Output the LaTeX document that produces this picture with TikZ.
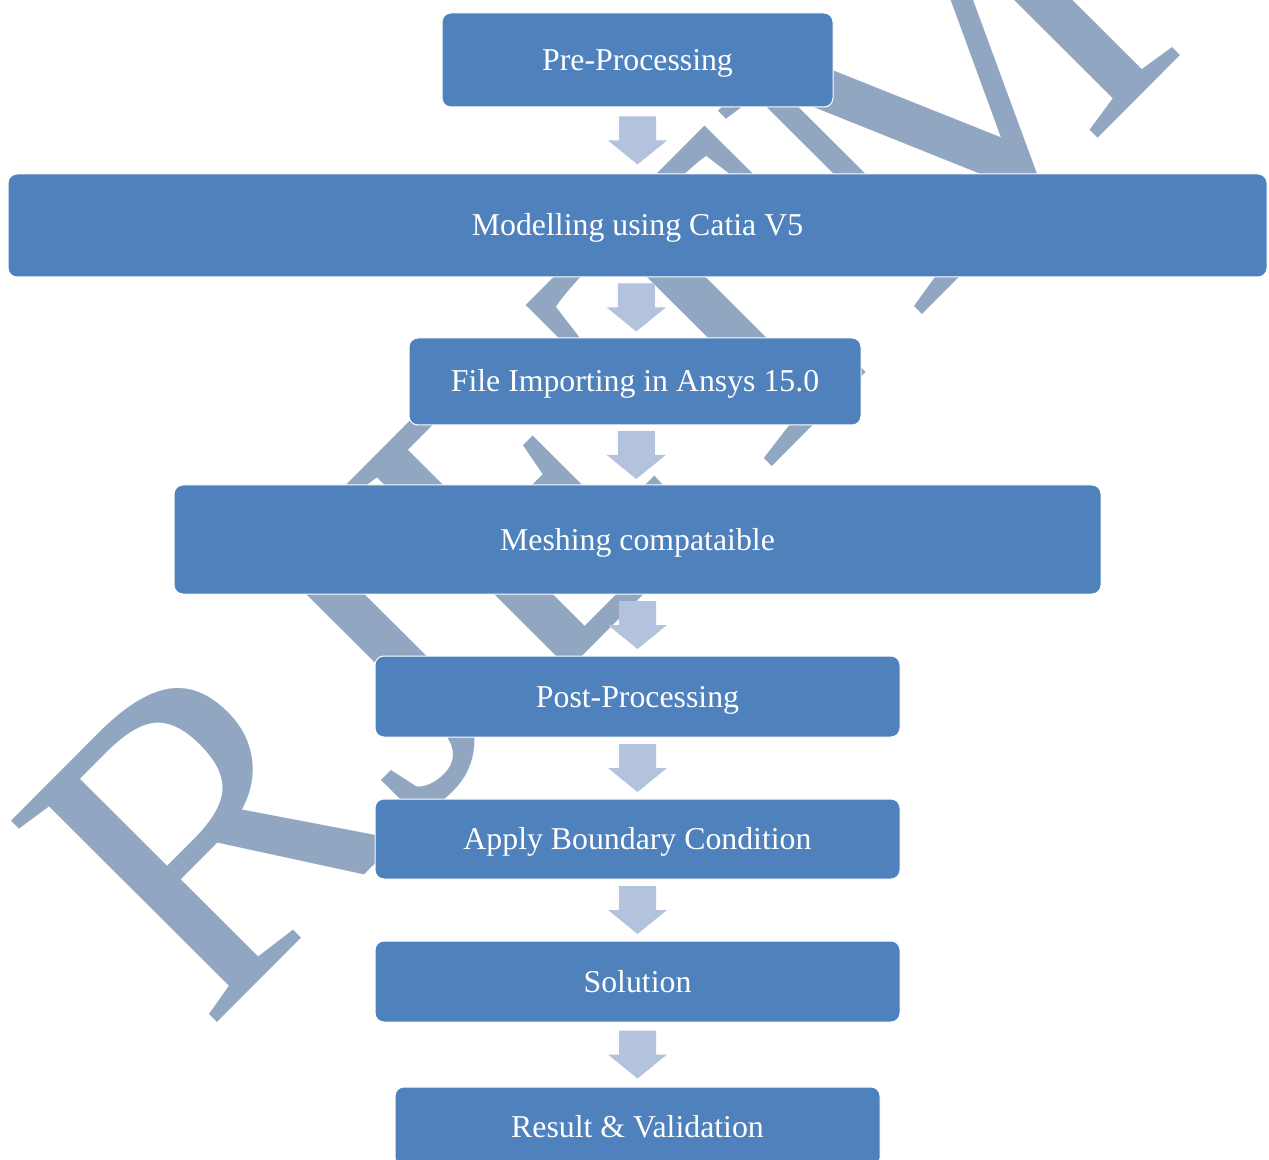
\documentclass[tikz,border=0pt]{standalone}
\usepackage{fontspec}
\setmainfont{Liberation Serif}
\usetikzlibrary{calc}

\definecolor{boxblue}{RGB}{79,129,189}
\definecolor{arrowblue}{RGB}{179,194,221}
\definecolor{markgray}{RGB}{145,166,192}

\tikzset{
  stepbox/.style={draw=white, line width=0.5pt, fill=boxblue, rounded corners=4.5pt,
    text=white, inner sep=0pt, text height=10.5pt, text depth=0pt,
    font=\fontsize{15.9}{19}\selectfont},
  downarrow/.style={fill=arrowblue},
  watermark/.style={text=markgray, inner sep=0pt, font=\fontsize{220}{220}\selectfont}
}

\begin{document}
\begin{tikzpicture}[x=0.5pt,y=0.5pt,yscale=-1]
\useasboundingbox (0,0) rectangle (1269,1160);
\clip (0,0) rectangle (1269,1160);

% Watermark
\node[watermark, anchor=base west, rotate=45.1] (mark) at (206,1034) {RJETM};

% Text Node
\node[stepbox, minimum width=195.5pt, minimum height=47pt] (pre) at (637.5,60) {Pre-Processing};
% Text Node
\node[stepbox, minimum width=629.5pt, minimum height=51.5pt] (model) at (637.5,225.5) {Modelling using Catia V5};
% Text Node
\node[stepbox, minimum width=226pt, minimum height=43.5pt] (import) at (635,381.5) {File Importing in Ansys 15.0};
% Text Node
\node[stepbox, minimum width=463.5pt, minimum height=54.5pt] (mesh) at (637.5,539.5) {Meshing compataible};
% Text Node
\node[stepbox, minimum width=262.5pt, minimum height=40.5pt] (post) at (637.5,696.5) {Post-Processing};
% Text Node
\node[stepbox, minimum width=262.5pt, minimum height=40pt] (apply) at (637.5,839) {Apply Boundary Condition};
% Text Node
\node[stepbox, minimum width=262.5pt, minimum height=40.5pt] (sol) at (637.5,981.5) {Solution};
% Text Node
\node[stepbox, minimum width=242.5pt, minimum height=40pt] (result) at (637.5,1127) {Result \& Validation};

% Block arrows
\foreach \a/\b in {pre/model,model/import,import/mesh,mesh/post,post/apply,apply/sol,sol/result}{
  \coordinate (mid) at ($(\a.south)!0.5!(\b.north)$);
  \fill[downarrow] (mid) ++(-18.5,-24) -- ++(37,0) -- ++(0,24) -- ++(11,0) -- ++(-29.5,24) -- ++(-29.5,-24) -- ++(11,0) -- cycle;
}

\end{tikzpicture}
\end{document}
